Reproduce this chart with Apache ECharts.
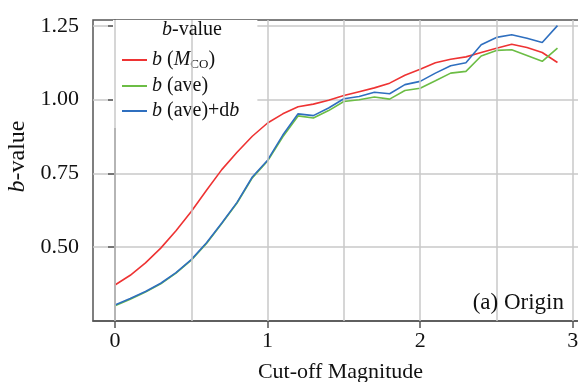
<!DOCTYPE html>
<html><head><meta charset="utf-8">
<script src="https://cdn.jsdelivr.net/npm/echarts@6/dist/echarts.min.js"></script>
<style>html,body{margin:0;padding:0;background:#fff}#c{width:578px;height:382px}</style>
</head><body><div id="c"></div>
<script>
const cutoff = [0.0,0.1,0.2,0.3,0.4,0.5,0.6,0.7,0.8,0.9,1.0,1.1,1.2,1.3,1.4,1.5,1.6,1.7,1.8,1.9,2.0,2.1,2.2,2.3,2.4,2.5,2.6,2.7,2.8,2.9];
const bMco = [0.372,0.405,0.447,0.497,0.556,0.621,0.693,0.763,0.822,0.876,0.921,0.952,0.976,0.985,0.998,1.014,1.027,1.040,1.056,1.083,1.103,1.125,1.137,1.145,1.160,1.174,1.188,1.177,1.160,1.126];
const bAve = [0.302,0.324,0.348,0.376,0.412,0.456,0.513,0.580,0.650,0.735,0.792,0.874,0.945,0.938,0.963,0.994,1.000,1.009,1.002,1.031,1.039,1.064,1.090,1.096,1.148,1.167,1.169,1.150,1.130,1.175];
const bAveDb = [0.304,0.326,0.350,0.378,0.414,0.458,0.515,0.582,0.652,0.738,0.795,0.880,0.952,0.946,0.972,1.003,1.011,1.025,1.020,1.051,1.062,1.090,1.115,1.125,1.186,1.211,1.220,1.208,1.194,1.251];
const seriesNames = ['b (MCO)','b (ave)','b (ave)+db'];
const seriesLabels = ['{i|b} ({i|M}{s|CO})','{i|b} (ave)','{i|b} (ave)+d{i|b}'];
const yTickValues = [0.5,0.75,1.0,1.25];
const xTickValues = [0,1,2,3];
const xGridValues = [0,0.5,1,1.5,2,2.5,3];

const FONT = 'Liberation Serif';
const colors = ['#ee3333','#6cbd45','#2f6fbf'];
const chart = echarts.init(document.getElementById('c'), null, {renderer:'canvas'});
const pair = (ys) => cutoff.map((x,i)=>[x, ys[i]]);
const richBase = {
  i:{fontStyle:'italic', fontFamily:FONT, fontSize:20, color:'#111'},
  s:{fontFamily:FONT, fontSize:13, color:'#111', padding:[9,0,0,0]}
};
chart.setOption({
  animation:false,
  textStyle:{fontFamily:FONT},
  grid:{left:93, top:20, right:-10, bottom:61, show:true, borderColor:'#555', borderWidth:1.5,
        backgroundColor:'transparent', containLabel:false, outerBoundsMode:'none'},
  title:[
    {text:'{i|b}-value', left:157, top:15, textStyle:{fontFamily:FONT, fontSize:20, fontWeight:'normal', color:'#111', rich:{i:{fontStyle:'italic', fontFamily:FONT, fontSize:20, color:'#111'}}}, z:10},
    {text:'(a) Origin', right:9, top:286, textStyle:{fontFamily:FONT, fontSize:23, fontWeight:'normal', color:'#111'}, z:10}
  ],
  legend:{
    data:seriesNames, orient:'vertical', left:113, top:20,
    padding:[30,18,7,9], itemGap:5, itemWidth:25, itemHeight:14,
    backgroundColor:'#fff', z:5,
    icon:'path://M0,6 L25,6 L25,8 L0,8 Z',
    formatter:(n)=>seriesLabels[seriesNames.indexOf(n)],
    textStyle:{fontFamily:FONT, fontSize:20, color:'#111', rich:richBase}
  },
  xAxis:{
    type:'value', min:-0.144, max:3.1,
    name:'Cut-off Magnitude', nameLocation:'middle', nameGap:40,
    nameTextStyle:{fontFamily:FONT, fontSize:22, color:'#111'},
    axisLine:{lineStyle:{color:'#555', width:1.5}},
    axisTick:{show:true, length:7, customValues:xTickValues, lineStyle:{color:'#555', width:1.5}},
    axisLabel:{customValues:xTickValues, margin:9, fontFamily:FONT, fontSize:22, color:'#111'},
    splitLine:{show:false}
  },
  yAxis:{
    type:'value', min:0.25, max:1.27, interval:0.125,
    name:'{i|b}-value', nameLocation:'middle', nameGap:62, nameRotate:90,
    nameTextStyle:{fontFamily:FONT, fontSize:24, color:'#111', padding:[0,0,0,28], rich:{i:{fontStyle:'italic', fontFamily:FONT, fontSize:24, color:'#111'}}},
    axisLine:{show:true, lineStyle:{color:'#555', width:1.5}},
    axisTick:{show:true, length:7, customValues:yTickValues, lineStyle:{color:'#555', width:1.5}},
    axisLabel:{customValues:yTickValues, margin:14, fontFamily:FONT, fontSize:22, color:'#111', formatter:(v)=>v.toFixed(2)},
    splitLine:{show:true, lineStyle:{color:'#c8c8c8', width:1.5}}
  },
  series:[
    {name:'grid', type:'line', data:[], z:1, silent:true,
     markLine:{silent:true, symbol:'none', label:{show:false}, animation:false,
       lineStyle:{color:'#c8c8c8', width:1.5, type:'solid'},
       data:xGridValues.map(v=>({xAxis:v}))}},
    {name:seriesNames[0], type:'line', data:pair(bMco), symbol:'none', color:colors[0], lineStyle:{width:1.6, color:colors[0]}, z:3},
    {name:seriesNames[1], type:'line', data:pair(bAve), symbol:'none', color:colors[1], lineStyle:{width:1.6, color:colors[1]}, z:3},
    {name:seriesNames[2], type:'line', data:pair(bAveDb), symbol:'none', color:colors[2], lineStyle:{width:1.6, color:colors[2]}, z:3}
  ]
});
</script></body></html>
